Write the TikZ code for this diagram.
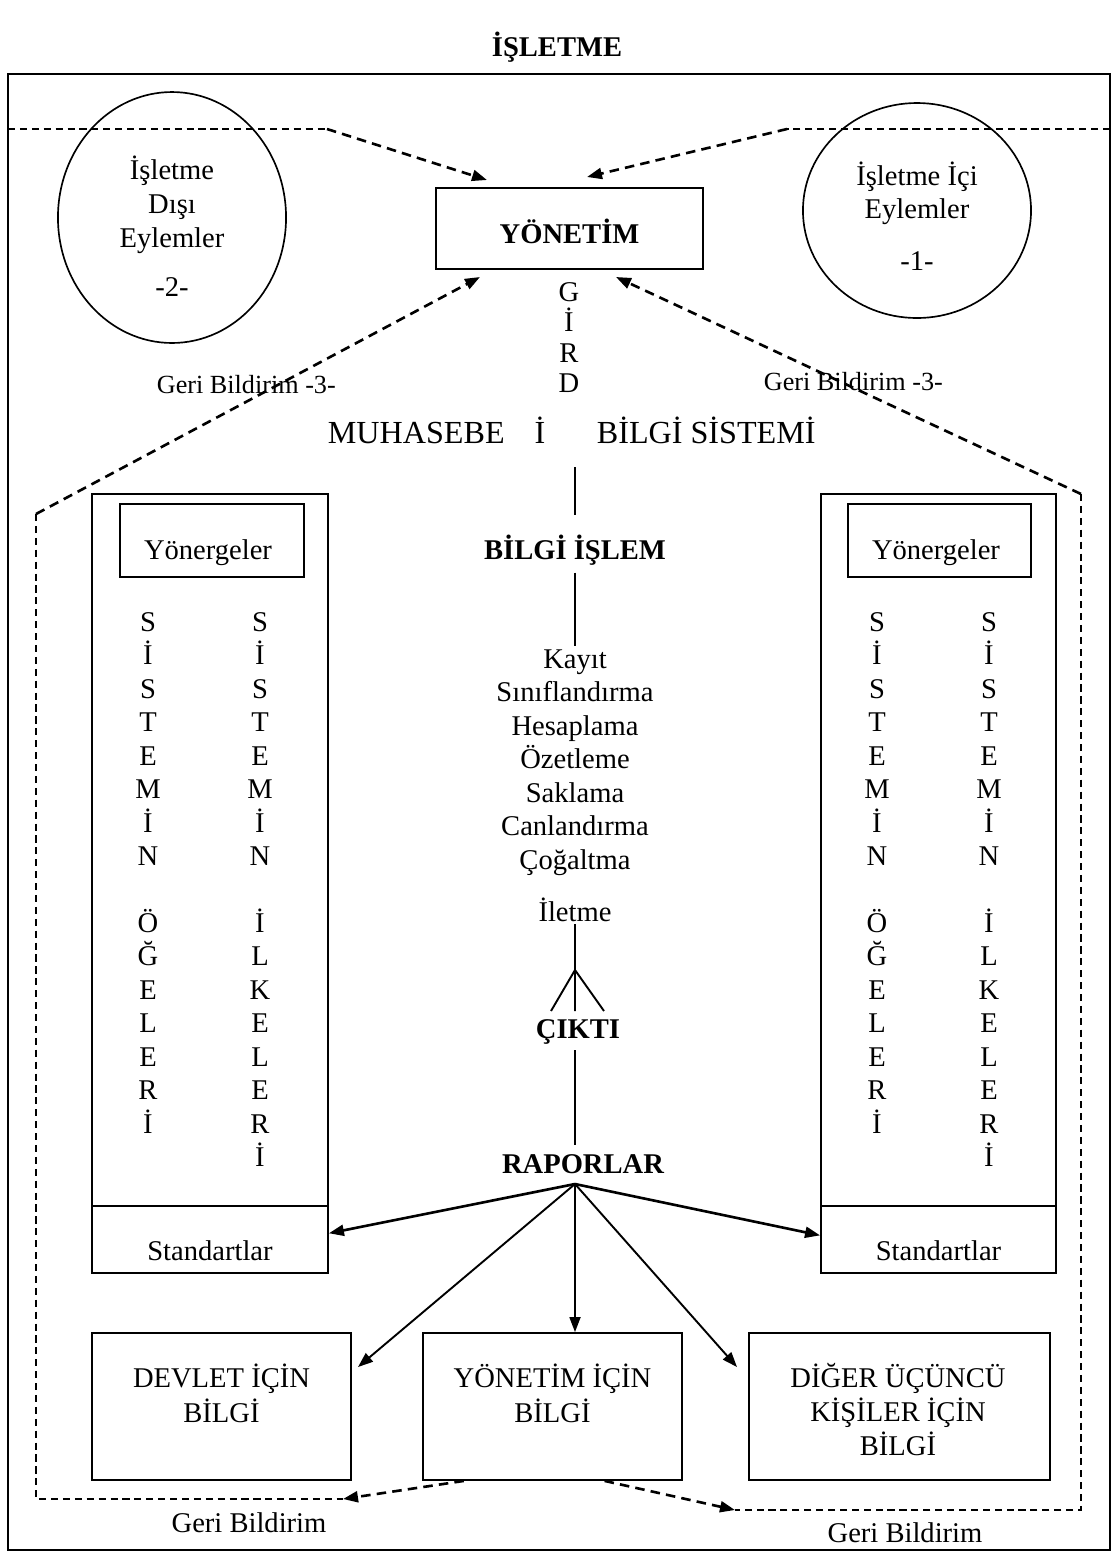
\documentclass[tikz,border=0pt]{standalone}
\usepackage{fontspec}
\setmainfont{Liberation Serif}
\usetikzlibrary{arrows.meta,shapes.geometric}

\begin{document}
\begin{tikzpicture}[x=0.42pt,y=-0.42pt,
  yazi/.style={font=\fontsize{12}{14}\selectfont, inner sep=1pt, anchor=base},
  kalin/.style={yazi, font=\fontsize{12}{14}\selectfont\bfseries},
  buyuk/.style={yazi, font=\fontsize{13.5}{16}\selectfont},
  kucuk/.style={yazi, font=\fontsize{11}{13}\selectfont},
  kutu/.style={draw, line width=0.8pt, inner sep=0pt},
  okucu/.style={-{Triangle[length=6.3pt,width=4.6pt]}},
  duzok/.style={okucu, line width=0.8pt},
  cizgi/.style={line width=0.8pt},
  sinir/.style={line width=0.6pt, dash pattern=on 3pt off 2pt},
  geriok/.style={okucu, line width=1.1pt, dash pattern=on 4pt off 2.6pt}]
\useasboundingbox (0,0) rectangle (1114,1556);
\node[kalin] (baslik) at (557,56) {İŞLETME};
\draw[line width=0.9pt] (8,74) rectangle (1110,1550);
% eylemler
\node[kutu, line width=0.7pt, ellipse, minimum width=95.8pt, minimum height=105.4pt] (disi) at (172,217.5) {};
\node[kutu, line width=0.7pt, ellipse, minimum width=95.8pt, minimum height=90.3pt] (ici) at (917,210.5) {};
\node[yazi] (disi1) at (172,179) {İşletme};
\node[yazi] (disi2) at (172,213) {Dışı};
\node[yazi] (disi3) at (172,247) {Eylemler};
\node[yazi] (disi4) at (172,296) {-2-};
\node[yazi] (ici1) at (917,185) {İşletme İçi};
\node[yazi] (ici2) at (917,218) {Eylemler};
\node[yazi] (ici3) at (917,270) {-1-};
% yonetim
\node[kutu, minimum width=112.1pt, minimum height=34pt] (yonetim) at (569.5,228.5) {};
\node[kalin] (yonetimyazi) at (569.5,243) {YÖNETİM};
\foreach \ch [count=\i from 0] in {G,İ,R,D}
  \node[yazi] (girdi\i) at (569,{301+30.5*\i}) {\ch};
\node[buyuk, anchor=base west] (muhasebe) at (325,443) {MUHASEBE};
\node[buyuk] (girdi4) at (540,443) {İ};
\node[buyuk, anchor=base west] (sistem) at (594,443) {BİLGİ SİSTEMİ};
\node[kucuk, anchor=base west] (geri3sol) at (154,393) {Geri Bildirim -3-};
\node[kucuk, anchor=base west] (geri3sag) at (761,390) {Geri Bildirim -3-};
% sol ve sag kutular
\node[kutu, minimum width=99.1pt, minimum height=299pt] (solkutu) at (210,850) {};
\node[kutu, minimum width=99.1pt, minimum height=28.1pt] (solstd) at (210,1239.5) {};
\node[kutu, minimum width=77.3pt, minimum height=30.7pt] (solyon) at (212,540.5) {};
\node[yazi] (solyonyazi) at (208,559) {Yönergeler};
\node[yazi] (solstdyazi) at (210,1260) {Standartlar};
\node[kutu, minimum width=98.7pt, minimum height=299pt] (sagkutu) at (938.5,850) {};
\node[kutu, minimum width=98.7pt, minimum height=28.1pt] (sagstd) at (938.5,1239.5) {};
\node[kutu, minimum width=76.9pt, minimum height=30.7pt] (sagyon) at (939.5,540.5) {};
\node[yazi] (sagyonyazi) at (936,559) {Yönergeler};
\node[yazi] (sagstdyazi) at (938.5,1260) {Standartlar};
\foreach \ch [count=\i from 0] in {S,İ,S,T,E,M,İ,N} {
  \node[yazi] (solA\i) at (148,{631+33.5*\i}) {\ch};
  \node[yazi] (solB\i) at (260,{631+33.5*\i}) {\ch};
  \node[yazi] (sagA\i) at (877,{631+33.5*\i}) {\ch};
  \node[yazi] (sagB\i) at (989,{631+33.5*\i}) {\ch};
}
\foreach \ch [count=\i from 0] in {Ö,Ğ,E,L,E,R,İ} {
  \node[yazi] (solC\i) at (148,{932+33.5*\i}) {\ch};
  \node[yazi] (sagC\i) at (877,{932+33.5*\i}) {\ch};
}
\foreach \ch [count=\i from 0] in {İ,L,K,E,L,E,R,İ} {
  \node[yazi] (solD\i) at (260,{932+33.5*\i}) {\ch};
  \node[yazi] (sagD\i) at (989,{932+33.5*\i}) {\ch};
}
% bilgi islem
\coordinate (muhalt) at (575,467);
\node[kalin] (bilgi) at (575,559) {BİLGİ İŞLEM};
\draw[cizgi, shorten >=7pt] (muhalt) -- (bilgi.north);
\foreach \w [count=\i from 0] in {Kayıt,Sınıflandırma,Hesaplama,Özetleme,Saklama,Canlandırma,Çoğaltma}
  \node[yazi] (islem\i) at (575,{668+33.5*\i}) {\w};
\draw[cizgi, shorten <=2pt] (bilgi.south) -- (islem0.north);
\node[yazi] (iletme) at (575,921) {İletme};
\coordinate (catal) at (575,970);
\coordinate (catalA) at (551,1011);
\coordinate (catalB) at (575,1011);
\coordinate (catalC) at (604,1011);
\draw[cizgi] (iletme.south) -- (catal);
\draw[cizgi] (catalA) -- (catal) -- (catalC) (catal) -- (catalB);
\node[kalin] (cikti) at (578,1038) {ÇIKTI};
\node[kalin] (raporlar) at (583,1173) {RAPORLAR};
\coordinate (rapor) at (575,1184);
\draw[cizgi, shorten <=1.5pt, shorten >=2.5pt] (rapor |- cikti.south) -- (rapor |- raporlar.north);
% bilgi kutulari
\node[kutu, minimum width=108.8pt, minimum height=61.7pt] (devlet) at (221.5,1406.5) {};
\node[kutu, minimum width=108.8pt, minimum height=61.7pt] (yonbilgi) at (552.5,1406.5) {};
\node[kutu, minimum width=126.4pt, minimum height=61.7pt] (diger) at (899.5,1406.5) {};
\node[yazi] (devlet1) at (221.5,1387) {DEVLET İÇİN};
\node[yazi] (devlet2) at (221.5,1422) {BİLGİ};
\node[yazi] (yonbilgi1) at (552.5,1387) {YÖNETİM İÇİN};
\node[yazi] (yonbilgi2) at (552.5,1422) {BİLGİ};
\node[yazi] (diger1) at (898,1387) {DİĞER ÜÇÜNCÜ};
\node[yazi] (diger2) at (898,1421) {KİŞİLER İÇİN};
\node[yazi] (diger3) at (898,1455) {BİLGİ};
% raporlar oklari
\coordinate (devletuc) at (358,1367);
\coordinate (digeruc) at (737,1367);
\draw[duzok, line width=1.1pt] (rapor) -- (solstd.3);
\draw[duzok, line width=1.1pt] (rapor) -- (sagstd.178);
\draw[duzok] (rapor) -- (devletuc);
\draw[duzok] (rapor) -- (rapor |- yonbilgi.north);
\draw[duzok] (rapor) -- (digeruc);
% geri bildirim
\coordinate (solkenar) at (8,129);
\coordinate (solkirik) at (327,129);
\coordinate (ustokL) at (487,180);
\coordinate (sagkenar) at (1110,129);
\coordinate (sagkirik) at (787,129);
\coordinate (ustokR) at (587,177);
\draw[sinir] (solkenar) -- (solkirik);
\draw[geriok] (solkirik) -- (ustokL);
\draw[sinir] (sagkenar) -- (sagkirik);
\draw[geriok] (sagkirik) -- (ustokR);
\coordinate (solust) at (36,514);
\coordinate (solalt) at (36,1499);
\coordinate (geriL) at (343,1499);
\coordinate (sagust) at (1081,494);
\coordinate (sagalt) at (1081,1510);
\coordinate (geriR) at (735,1510);
\coordinate (altokL) at (480,277);
\coordinate (altokR) at (616,277);
\draw[geriok] (solust) -- (altokL);
\draw[geriok] (sagust) -- (altokR);
\draw[sinir] (solust) -- (solalt) -- (geriL);
\draw[sinir] (sagust) -- (sagalt) -- (geriR);
\draw[geriok] (yonbilgi.220) -- (geriL);
\draw[geriok] (yonbilgi.305) -- (geriR);
\node[yazi] (geriyaziL) at (249,1532) {Geri Bildirim};
\node[yazi] (geriyaziR) at (905,1542) {Geri Bildirim};
\end{tikzpicture}
\end{document}
